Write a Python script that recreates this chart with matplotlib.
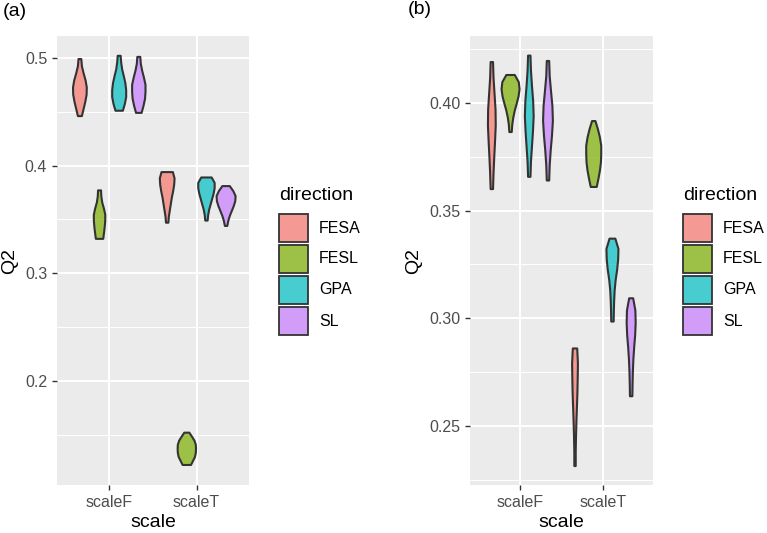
import numpy as np
import matplotlib
matplotlib.use("Agg")
import matplotlib.pyplot as plt
from matplotlib.patches import Rectangle

plt.rcParams['font.family'] = ['Liberation Sans', 'DejaVu Sans']

directions = ["FESA", "FESL", "GPA", "SL"]
scales = ["scaleF", "scaleT"]
colors = ["#F8766D", "#7CAE00", "#00BFC4", "#C77CFF"]

# order: scaleF (FESA, FESL, GPA, SL), scaleT (FESA, FESL, GPA, SL)
a_lo = [0.446, 0.332, 0.451, 0.449, 0.347, 0.122, 0.349, 0.344]
a_hi = [0.499, 0.377, 0.502, 0.501, 0.394, 0.152, 0.389, 0.381]
a_dens = [
    [2.8, 4.5, 6.2, 7.5, 7.7, 6.5, 4.5, 2.8, 2.2],
    [4.5, 5.3, 6.0, 6.5, 6.5, 5.2, 3.5, 2.6, 2.3],
    [4.5, 6.5, 7.8, 7.8, 7.0, 5.5, 3.8, 2.8, 2.3],
    [3.6, 5.5, 7.0, 7.5, 7.5, 6.0, 4.2, 2.8, 2.3],
    [2.0, 2.5, 3.5, 4.5, 5.5, 6.8, 7.8, 8.2, 6.5],
    [5.0, 7.0, 9.0, 9.8, 10.0, 9.8, 8.5, 6.0, 3.3],
    [2.0, 2.5, 3.5, 5.0, 6.5, 8.0, 9.0, 9.0, 6.0],
    [2.0, 3.0, 4.5, 6.5, 8.5, 10.0, 10.3, 8.0, 4.5],
]

b_lo = [0.360, 0.3865, 0.3657, 0.364, 0.2314, 0.361, 0.2985, 0.2638]
b_hi = [0.419, 0.413, 0.422, 0.4195, 0.286, 0.3916, 0.337, 0.3093]
b_dens = [
    [2.0, 2.5, 3.2, 4.0, 4.7, 4.5, 3.5, 2.5, 2.0],
    [2.0, 2.5, 3.5, 5.0, 7.0, 8.8, 9.8, 9.0, 5.0],
    [2.0, 2.5, 3.5, 4.5, 5.2, 4.7, 3.5, 2.5, 2.0],
    [2.0, 2.5, 3.5, 4.8, 5.7, 5.2, 3.8, 2.5, 2.0],
    [1.5, 1.5, 1.8, 2.2, 2.7, 3.2, 3.5, 3.7, 3.0],
    [3.8, 5.5, 7.0, 8.0, 8.3, 8.3, 7.0, 5.0, 2.5],
    [2.0, 2.2, 2.5, 3.0, 4.0, 5.5, 6.5, 6.8, 3.7],
    [2.0, 2.2, 2.5, 3.0, 3.8, 4.8, 5.3, 5.0, 2.8],
]

a_ticks = [0.2, 0.3, 0.4, 0.5]
a_tick_labels = ["0.2", "0.3", "0.4", "0.5"]
a_minor = [0.15, 0.25, 0.35, 0.45]
b_ticks = [0.25, 0.30, 0.35, 0.40]
b_tick_labels = ["0.25", "0.30", "0.35", "0.40"]
b_minor = [0.225, 0.275, 0.325, 0.375, 0.425]

W, H = 767, 533
fig = plt.figure(figsize=(W / 100, H / 100), dpi=100)
fig.patch.set_facecolor("white")


def px_axes(l, r, t, b):
    return fig.add_axes([l / W, 1 - b / H, (r - l) / W, (b - t) / H])


def blend(c, alpha=0.7, bg=(235 / 255, 235 / 255, 235 / 255)):
    rgb = matplotlib.colors.to_rgb(c)
    return tuple(alpha * x + (1 - alpha) * y for x, y in zip(rgb, bg))


def panel(ax, lo, hi, dens, ylim, ticks, tlabels, minor, px_per_unit):
    ax.set_facecolor("#EBEBEB")
    ax.set_xlim(0.4, 2.6)
    ax.set_ylim(*ylim)
    for m in minor:
        ax.axhline(m, color="white", lw=0.7, zorder=0)
    for t in ticks:
        ax.axhline(t, color="white", lw=1.4, zorder=0)
    for xc in [1, 2]:
        ax.axvline(xc, color="white", lw=1.4, zorder=0)
    for s in range(2):
        for d in range(4):
            i = s * 4 + d
            center = (s + 1) + (d - 1.5) * 0.225
            prof = np.array(dens[i])
            ys = np.linspace(lo[i], hi[i], len(prof))
            hw = np.maximum(prof - 0.8, 0.3) / px_per_unit
            xs = np.concatenate([center - hw, (center + hw)[::-1]])
            yy = np.concatenate([ys, ys[::-1]])
            ax.fill(xs, yy, facecolor=colors[d], alpha=0.7, zorder=2)
            ax.fill(xs, yy, facecolor="none", edgecolor="#333333", lw=1.5,
                    joinstyle="round", zorder=3)
    for sp in ax.spines.values():
        sp.set_visible(False)
    ax.set_yticks(ticks)
    ax.set_yticklabels(tlabels)
    ax.set_xticks([1, 2])
    ax.set_xticklabels(scales)
    ax.tick_params(axis="both", length=3.6, width=1.0, color="#333333",
                   labelcolor="#4D4D4D", labelsize=11.5, pad=3.5)
    ax.set_xlabel("scale", fontsize=14, labelpad=3)
    ax.set_ylabel("Q2", fontsize=14, labelpad=5)


ax1 = px_axes(57, 249, 36, 485)
panel(ax1, a_lo, a_hi, a_dens, (0.1034, 0.5204), a_ticks, a_tick_labels,
      a_minor, 87.3)
ax2 = px_axes(470, 653, 36, 485)
panel(ax2, b_lo, b_hi, b_dens, (0.2226, 0.4311), b_ticks, b_tick_labels,
      b_minor, 83.0)

fig.text(3 / W, 1 - 11 / H, "(a)", fontsize=14, va="center", ha="left")
fig.text(408 / W, 1 - 10 / H, "(b)", fontsize=14, va="center", ha="left")


def legend(x0):
    fig.text(x0 / W, 1 - 195 / H, "direction", fontsize=14, va="center",
             ha="left")
    for k, name in enumerate(directions):
        top = 214 + k * 31
        fig.add_artist(Rectangle((x0 / W, 1 - (top + 28) / H), 29 / W, 28 / H,
                                 transform=fig.transFigure,
                                 facecolor=blend(colors[k]),
                                 edgecolor="#333333", lw=1.3))
        fig.text((x0 + 40) / W, 1 - (top + 14) / H, name, fontsize=11.5,
                 va="center", ha="left")


legend(279)
legend(683)

fig.savefig("out.png", dpi=100)
